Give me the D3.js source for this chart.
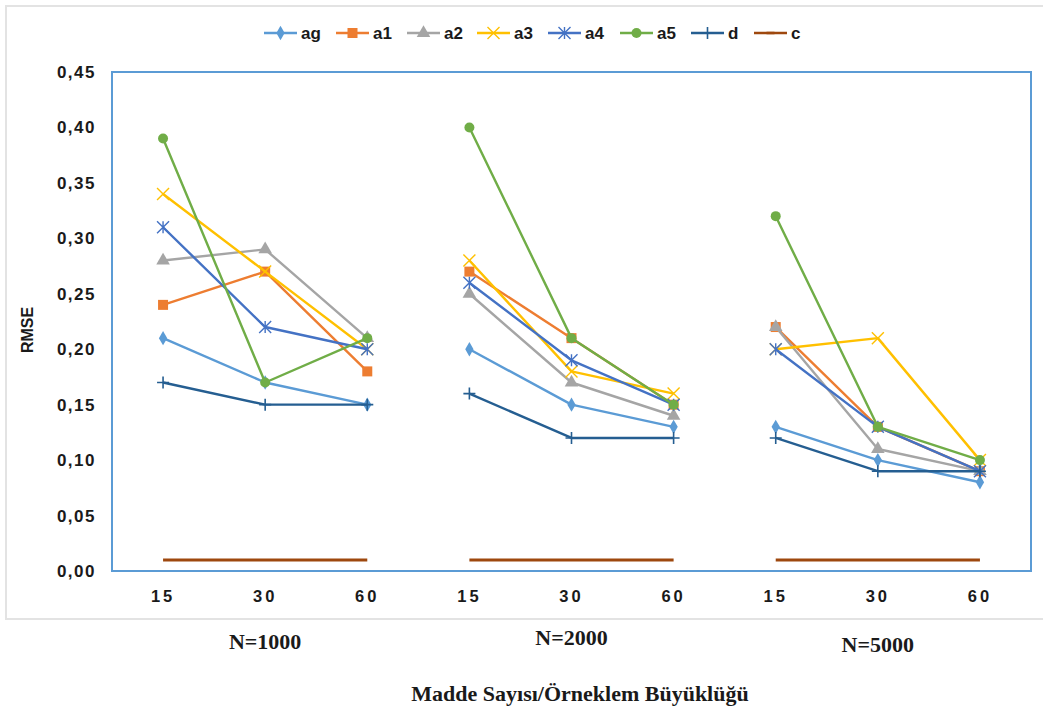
<!DOCTYPE html>
<html>
<head>
<meta charset="utf-8">
<script src="https://cdn.jsdelivr.net/npm/d3@7"></script>
<style>
  body { margin: 0; background: #fff; }
  svg { display: block; }
</style>
</head>
<body>
<script>
// item counts inside each sample-size group
const itemCounts = ["15", "30", "60"];
const sampleGroups = ["N=1000", "N=2000", "N=5000"];

// RMSE per series, 9 values = 3 groups x 3 item counts
const seriesNames = ["ag", "a1", "a2", "a3", "a4", "a5", "d", "c"];
const ag = [0.21, 0.17, 0.15, 0.20, 0.15, 0.13, 0.13, 0.10, 0.08];
const a1 = [0.24, 0.27, 0.18, 0.27, 0.21, 0.15, 0.22, 0.13, 0.09];
const a2 = [0.28, 0.29, 0.21, 0.25, 0.17, 0.14, 0.22, 0.11, 0.09];
const a3 = [0.34, 0.27, 0.20, 0.28, 0.18, 0.16, 0.20, 0.21, 0.10];
const a4 = [0.31, 0.22, 0.20, 0.26, 0.19, 0.15, 0.20, 0.13, 0.09];
const a5 = [0.39, 0.17, 0.21, 0.40, 0.21, 0.15, 0.32, 0.13, 0.10];
const dd = [0.17, 0.15, 0.15, 0.16, 0.12, 0.12, 0.12, 0.09, 0.09];
const cc = [0.01, 0.01, 0.01, 0.01, 0.01, 0.01, 0.01, 0.01, 0.01];
const yTicks = [0, 0.05, 0.1, 0.15, 0.2, 0.25, 0.3, 0.35, 0.4, 0.45];

const values = [ag, a1, a2, a3, a4, a5, dd, cc];
const colors = ["#5B9BD5", "#ED7D31", "#A5A5A5", "#FFC000", "#4472C4", "#70AD47", "#255E91", "#9E480E"];
const markers = ["diamond", "square", "triangle", "x", "star", "circle", "plus", "dash"];

const W = 1043, H = 713;
const plot = { left: 112, right: 1031, top: 72, bottom: 571 };
const sans = "'Liberation Sans', Arial, sans-serif";
const serif = "'Liberation Serif', 'Times New Roman', serif";

const svg = d3.select("body").append("svg").attr("width", W).attr("height", H);

// outer chart area border
svg.append("rect")
  .attr("x", 6).attr("y", 6)
  .attr("width", W + 10).attr("height", 613)
  .attr("fill", "none")
  .attr("stroke", "#e3e3e3")
  .attr("stroke-width", 2);

const cats = [];
sampleGroups.forEach((g, gi) => itemCounts.forEach((n) => cats.push(gi + "-" + n)));

const x = d3.scaleBand().domain(cats).range([plot.left, plot.right]);
const cx = (i) => x(cats[i]) + x.bandwidth() / 2;
const y = d3.scaleLinear().domain([0, 0.45]).range([plot.bottom, plot.top]);

const locale = d3.formatLocale({ decimal: ",", thousands: ".", grouping: [3], currency: ["", ""] });
const fmt = locale.format(".2f");

// y axis
const yAxis = svg.append("g")
  .attr("transform", "translate(" + (plot.left - 16) + ",0)")
  .call(d3.axisLeft(y).tickValues(yTicks).tickFormat(fmt).tickSize(0).tickPadding(0));
yAxis.select(".domain").remove();
yAxis.selectAll("text")
  .style("font-family", sans)
  .style("font-size", "17px")
  .style("font-weight", "bold")
  .style("letter-spacing", "1.5px")
  .attr("fill", "#1a1a1a");

// x axis (item counts)
const xAxis = svg.append("g")
  .attr("transform", "translate(0," + plot.bottom + ")")
  .call(d3.axisBottom(x).tickFormat((d) => d.split("-")[1]).tickSize(0).tickPadding(19));
xAxis.select(".domain").remove();
xAxis.selectAll("text")
  .style("font-family", sans)
  .style("font-size", "16.5px")
  .style("font-weight", "bold")
  .style("letter-spacing", "3px")
  .attr("fill", "#1a1a1a");

// plot area border
svg.append("rect")
  .attr("x", plot.left).attr("y", plot.top)
  .attr("width", plot.right - plot.left).attr("height", plot.bottom - plot.top)
  .attr("fill", "none")
  .attr("stroke", "#5B9BD5")
  .attr("stroke-width", 2);

function drawMarker(g, type, color, px, py) {
  if (type === "diamond") {
    g.append("path").attr("d", d3.symbol(d3.symbolDiamond, 60)()).attr("transform", `translate(${px},${py})`).attr("fill", color);
  } else if (type === "square") {
    g.append("rect").attr("x", px - 5).attr("y", py - 5).attr("width", 10).attr("height", 10).attr("fill", color);
  } else if (type === "triangle") {
    g.append("path").attr("d", d3.symbol(d3.symbolTriangle, 80)()).attr("transform", `translate(${px},${py})`).attr("fill", color);
  } else if (type === "circle") {
    g.append("circle").attr("cx", px).attr("cy", py).attr("r", 5).attr("fill", color);
  } else if (type === "x") {
    g.append("path").attr("d", `M${px - 6},${py - 6}L${px + 6},${py + 6}M${px - 6},${py + 6}L${px + 6},${py - 6}`)
      .attr("stroke", color).attr("stroke-width", 1.4);
  } else if (type === "star") {
    g.append("path").attr("d", `M${px - 6},${py - 6}L${px + 6},${py + 6}M${px - 6},${py + 6}L${px + 6},${py - 6}M${px},${py - 6}L${px},${py + 6}`)
      .attr("stroke", color).attr("stroke-width", 1.4);
  } else if (type === "plus") {
    g.append("path").attr("d", `M${px - 6},${py}L${px + 6},${py}M${px},${py - 6}L${px},${py + 6}`)
      .attr("stroke", color).attr("stroke-width", 1.6);
  } else if (type === "dash") {
    g.append("path").attr("d", `M${px - 4},${py}L${px + 4},${py}`)
      .attr("stroke", color).attr("stroke-width", 2.5);
  }
}

const line = d3.line().x((d) => cx(d.i)).y((d) => y(d.v));

values.forEach((vals, si) => {
  const g = svg.append("g");
  sampleGroups.forEach((grp, gi) => {
    const seg = [0, 1, 2].map((k) => ({ i: gi * 3 + k, v: vals[gi * 3 + k] }));
    g.append("path")
      .datum(seg)
      .attr("d", line)
      .attr("fill", "none")
      .attr("stroke", colors[si])
      .attr("stroke-width", seriesNames[si] === "c" ? 3 : 2.4)
      .attr("stroke-linejoin", "round");
    if (seriesNames[si] !== "c") {
      seg.forEach((p) => drawMarker(g, markers[si], colors[si], cx(p.i), y(p.v)));
    }
  });
});

// legend
const legendX = [264, 336, 407, 477, 548, 620, 691, 754];
const legend = svg.append("g");
seriesNames.forEach((name, i) => {
  const lx = legendX[i];
  legend.append("line")
    .attr("x1", lx).attr("x2", lx + 33)
    .attr("y1", 33).attr("y2", 33)
    .attr("stroke", colors[i]).attr("stroke-width", 2.4);
  drawMarker(legend, markers[i], colors[i], lx + 16.5, 33);
  legend.append("text")
    .attr("x", lx + 37).attr("y", 33).attr("dy", "0.35em")
    .style("font-family", sans)
    .style("font-size", "17px")
    .style("font-weight", "bold")
    .attr("fill", "#1a1a1a")
    .text(name);
});

// y title
svg.append("text")
  .attr("transform", "translate(33,330) rotate(-90)")
  .attr("text-anchor", "middle")
  .style("font-family", sans)
  .style("font-size", "16px")
  .style("font-weight", "bold")
  .attr("fill", "#1a1a1a")
  .text("RMSE");

// group labels
const groupY = [649, 645, 652];
sampleGroups.forEach((grp, gi) => {
  svg.append("text")
    .attr("x", cx(gi * 3 + 1))
    .attr("y", groupY[gi])
    .attr("text-anchor", "middle")
    .style("font-family", serif)
    .style("font-size", "22px")
    .style("font-weight", "bold")
    .attr("fill", "#1a1a1a")
    .text(grp);
});

// x title
svg.append("text")
  .attr("x", 580).attr("y", 701)
  .attr("text-anchor", "middle")
  .style("font-family", serif)
  .style("font-size", "22px")
  .style("font-weight", "bold")
  .attr("fill", "#1a1a1a")
  .text("Madde Sayısı/Örneklem Büyüklüğü");
</script>
</body>
</html>
